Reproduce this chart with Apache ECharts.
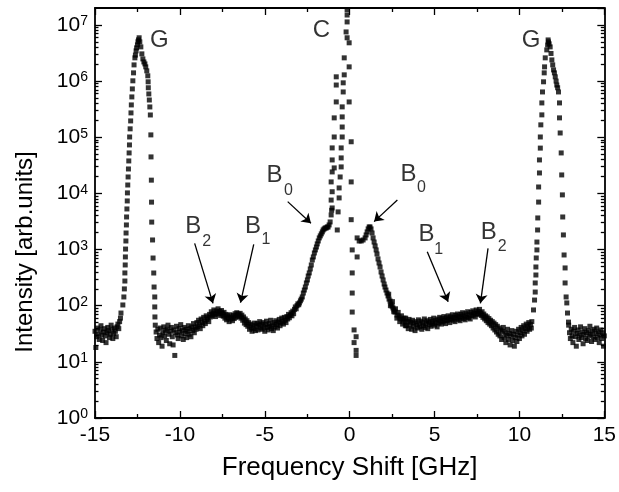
<!DOCTYPE html>
<html><head><meta charset="utf-8">
<script src="https://cdn.jsdelivr.net/npm/echarts@6/dist/echarts.min.js"></script>
<style>html,body{margin:0;padding:0;background:#fff}#c{width:619px;height:492px}</style>
</head><body><div id="c"></div>
<script>
// ---------- data (frequency shift in GHz, intensity in arb. units) ----------
const STEP = 0.05;
// regularly sampled stretches: start shift + intensities
const leftTailStart = -15.0;
const leftTailY = [35,18,28,40,31,25,37,44,30,24, 34,39,29,22,33,41,36,27,31,45, 38,26,32,40,35,28,42,47,39,52, 60];
const baseLeftStart = -11.45;
const baseLeftY = [45,34,26,38,22,30,40,27,19,33, 42,29,36,24,38,45,31,21,35,41, 28,20,37,13,33,43,30,26,39,34,
  46,29,36,25,41,32,38,27,35,44, 31,39,28,42,36,48,33,41,38,50, 42,55,46,39,58,50,44,62,53,48,
  66,57,61,52,70,63,78,66,72,84, 70,64,80,74,88,71,79,67,82,73, 65,76,60,70,56,66,61,52,69,58,
  63,54,67,59,72,62,75,66,71,64, 73,60,68,55,63,49,58,46,54,43, 50,38,47,41,35,45,39,49,36,43,
  48,37,45,52,40,47,38,50,42,35, 46,53,41,37,48,43,55,39,45,36, 50,42,54,46,40,51,57,44,49,60,
  52,47,62,55,50,64,58,70,61,67, 75,66,80,72,86,95,88,100,108,104];
const baseRightStart = 3.30;
const baseRightY = [60,44,53,39,57,46,51,38,55,43, 49,36,52,45,40,56,47,42,53,38, 50,44,58,41,48,54,39,51,46,57,
  43,52,48,60,45,55,50,42,58,49, 62,53,47,59,51,64,55,48,61,54, 66,57,50,63,58,69,55,62,52,67,
  60,71,57,64,54,70,62,75,59,66, 56,72,63,78,61,69,58,76,66,81, 68,74,63,84,72,79,70,86,74,67,
  78,62,71,58,66,54,63,50,59,47, 55,44,52,40,49,37,46,34,43,31, 40,29,37,25,35,41,27,33,22,30,
  38,25,32,20,29,36,24,31,19,27, 35,23,30,38,26,33,41,29,36,44, 31,39,47,35,42,50,38,46,40];
const rightTailStart = 12.90;
const rightTailY = [45,33,26,38,29,22,35,41,28,19, 32,37,25,30,42,27,34,21,31,39, 26,33,24,36,29,43,31,23,35,28,
  38,25,32,40,27,34,22,30,37,26, 33,19,29];

// irregular stretches: steep flanks
const leftGRiseX = [-13.47,-13.36,-13.30,-13.27,-13.24,-13.24,-13.22,-13.21,-13.20,-13.18,-13.17,-13.15,-13.14,-13.12,-13.10,-13.09,-13.07,-13.05,-13.03,-13.01,
  -12.99,-12.97,-12.96,-12.93,-12.90,-12.88,-12.86,-12.83,-12.80,-12.77,-12.73,-12.70,-12.65,-12.58,-12.50,-12.44,-12.40,-12.62,-12.55,-12.47];
const leftGRiseY = [74,103,143,199,275,383,531,738,1020,1420,1970,2740,3800,5280,7330,10200,14100,19600,27200,37800,
  52500,72900,101000,141000,195000,271000,376000,522000,725000,1010000,1400000,1940000,2590000,3450000,4410000,5410000,5900000,2900000,3900000,5000000];
const leftGFallX = [-12.36,-12.30,-12.24,-12.18,-12.12,-12.06,-12.01,-11.95,-11.89,-11.87,-11.86,-11.83,-11.80,-11.77,-11.74,-11.71,-11.70,-11.68,-11.67,-11.66,
  -11.61,-11.58,-11.54,-11.52,-11.48,-11.48,-11.47];
const leftGFallY = [4980000,4060000,3050000,2480000,2190000,2020000,1790000,1520000,1240000,970000,760000,590000,460000,346000,249000,110000,44600,17200,6980,3080,
  1480,706,382,215,143,95,63];
const riseB0X = [-2.96,-2.90,-2.85,-2.79,-2.73,-2.67,-2.61,-2.55,-2.49,-2.44,-2.38,-2.32,-2.26,-2.20,-2.14,-2.08,-2.02,-1.96,-1.91,-1.85,
  -1.79,-1.73,-1.67,-1.61,-1.56,-1.50,-1.44,-1.38,-1.32,-1.27,-1.21,-1.15,-1.09,-1.06];
const riseB0Y = [112,122,131,143,168,190,215,254,287,338,383,451,531,652,738,869,984,1110,1260,1420,
  1610,1750,1900,2060,2230,2330,2420,2420,2520,2520,2740,3100,4130,5000];
const centralLeftX = [-1.03,-1.09,-1.03,-1.09,-1.03,-0.91,-1.03,-1.03,-0.91,-0.91,-0.79,-0.79,-0.79];
const centralLeftY = [5500,7600,10700,16000,24100,28400,39400,64500,101000,221000,425000,850000,1190000];
const centralRightX = [-0.73,-0.68,-0.62,-0.62,-0.56,-0.50,-0.50,-0.50,-0.44,-0.44,-0.44,-0.44,-0.38,-0.38,-0.32,-0.03,-0.32,-0.03,-0.15,-0.21,
  -0.15,-0.15,-0.15,0.09,0.09,0.09,-0.03];
const centralRightY = [2230,4680,8300,12500,19600,29600,42800,64500,101000,152000,230000,347000,640000,930000,1290000,1790000,2590000,4800000,5900000,7500000,
  11300000,15000000,18600000,83000,16000,3400,425000];
const centralFallX = [0.15,0.44,0.15,0.15,0.15,0.26,0.38,0.26,0.38,0.38];
const centralFallY = [984,738,383,168,77,37,28,22,16,13];
const rightB0X = [0.44,0.56,0.68,0.79,0.91,0.97,1.03,1.09,1.15,1.20,1.26,1.32,1.38,1.44,1.50,1.56,1.61,1.67,1.73,1.79,
  1.85,1.91,1.97,2.03,2.08,2.14,2.20,2.26,2.32,2.38,2.44,2.50,2.55,2.61,2.67,2.79,2.91,3.02,3.14,3.26,
  2.30,2.40,2.52,2.60,2.70,2.78,2.86,2.95,3.05,3.12,3.20,3.28];
const rightB0Y = [1610,1420,1420,1480,1610,1820,2060,2330,2520,2520,2330,1970,1610,1360,1160,984,833,680,576,489,
  398,338,287,243,215,190,168,149,131,121,107,98,91,84,77,68,63,58,56,51,
  160,100,118,78,88,60,76,52,66,47,60,44];
const rightGRiseX = [10.73,10.83,10.89,10.93,10.93,10.97,10.97,10.99,11.03,11.03,11.07,11.08,11.13,11.13,11.18,11.18,11.23,11.23,11.26,11.32,
  11.32,11.36,11.42,11.46,11.48,11.52,11.61,11.71,11.66,11.69];
const rightGRiseY = [52,84,126,175,254,352,489,708,984,1360,2230,3650,7000,13000,23100,39400,64000,101000,166000,250000,
  408000,640000,970000,1400000,1790000,2590000,3590000,4980000,4400000,5400000];
const rightGFallX = [11.75,11.81,11.86,11.91,11.96,12.01,12.06,12.11,12.16,12.20,12.25,12.30,12.36,12.36,12.40,12.46,12.49,12.53,12.55,12.59,
  12.63,12.69,12.69,12.75,12.79,12.83,12.89];
const rightGFallY = [4600000,4060000,3100000,2380000,1940000,1580000,1400000,1190000,1000000,850000,760000,640000,408000,221000,119000,52500,21300,9400,3800,1820,
  800,470,254,143,112,74,51];

// axes
const xMin = -15, xMax = 15, xStep = 5;
const yMin = 1, yMax = 2e7;

// annotations: letters and their subscripts
const letterText = ['G','C','G','B','B','B','B','B','B'];
const letterX = [-11.21,-1.67,10.69,-4.43,3.46,-9.22,-5.69,4.52,8.19];
const letterY = [5.4e6,8.15e6,5.4e6,2.05e4,2.22e4,2.56e3,2.56e3,1.90e3,2.06e3];
const subText = ['0','0','2','1','1','2'];
const subX = [-3.61,4.23,-8.42,-4.93,5.25,8.98];
const subY = [1.10e4,1.28e4,1.36e3,1.48e3,1.00e3,1.11e3];
const arrowFrom = [[-3.65,7130],[-9.13,1290],[-5.65,1240],[2.81,7640],[4.57,916],[8.15,1050]];
const arrowTo   = [[-2.28,2940],[-8.05,110],[-6.43,113],[1.44,3140],[5.80,118],[7.70,110]];

// ---------- build ----------
function regular(start, ys) { return ys.map((y, i) => [+(start + i * STEP).toFixed(2), y]); }
function pairs(xs, ys) { return xs.map((x, i) => [x, ys[i]]); }
const points = [].concat(
  regular(leftTailStart, leftTailY),
  pairs(leftGRiseX, leftGRiseY),
  pairs(leftGFallX, leftGFallY),
  regular(baseLeftStart, baseLeftY),
  pairs(riseB0X, riseB0Y),
  pairs(centralLeftX, centralLeftY),
  pairs(centralRightX, centralRightY),
  pairs(centralFallX, centralFallY),
  pairs(rightB0X, rightB0Y),
  regular(baseRightStart, baseRightY),
  pairs(rightGRiseX, rightGRiseY),
  pairs(rightGFallX, rightGFallY),
  regular(rightTailStart, rightTailY)
);

const FONT = '"Liberation Sans", Arial, Helvetica, sans-serif';
const logMax = Math.log10(yMax);
const minorLogs = [];
for (let d = 0; d < 8; d++) for (let k = 2; k <= 9; k++) { const v = d + Math.log10(k); if (v < logMax) minorLogs.push(v); }

const black = '#000';
const lineStyle = { color: black, width: 1.8 };
const tickStyle = { color: black, width: 1.3 };

const xAxisBase = {
  type: 'value', min: xMin, max: xMax, interval: xStep,
  axisLine: { show: true, onZero: false, lineStyle: lineStyle },
  axisTick: { show: true, inside: true, length: 7, lineStyle: tickStyle },
  minorTick: { show: true, splitNumber: 2, length: 4, lineStyle: tickStyle },
  splitLine: { show: false }
};
const yLogBase = {
  type: 'log', logBase: 10, min: yMin, max: yMax, splitNumber: 7,
  axisLine: { show: true, onZero: false, lineStyle: lineStyle },
  axisTick: { show: true, inside: true, length: 7, lineStyle: tickStyle },
  splitLine: { show: false }
};
const yMinorBase = {
  type: 'value', min: 0, max: logMax,
  axisLine: { show: false, onZero: false },
  axisTick: { show: true, inside: true, length: 3.5, lineStyle: tickStyle, customValues: minorLogs },
  axisLabel: { show: false },
  splitLine: { show: false }
};
const textStyle = { color: black, fontFamily: FONT };

const chart = echarts.init(document.getElementById('c'), null, { renderer: 'canvas' });
chart.setOption({
  animation: false,
  backgroundColor: '#fff',
  grid: { left: 95, right: 13, top: 8, bottom: 74 },
  xAxis: [
    Object.assign({}, xAxisBase, {
      position: 'bottom',
      axisLabel: { color: black, fontSize: 21, fontFamily: FONT, margin: 7 },
      name: 'Frequency Shift [GHz]', nameLocation: 'middle', nameGap: 37,
      nameTextStyle: { color: black, fontSize: 26, fontFamily: FONT }
    }),
    Object.assign({}, xAxisBase, { position: 'top', axisLabel: { show: false } })
  ],
  yAxis: [
    Object.assign({}, yLogBase, {
      position: 'left',
      axisLabel: {
        color: black, fontFamily: FONT, margin: 7, showMaxLabel: false,
        formatter: function (v) {
          const e = Math.log10(v);
          if (Math.abs(e - Math.round(e)) > 1e-6) return '';
          return '{b|10}{s|' + Math.round(e) + '}';
        },
        rich: {
          b: { fontSize: 21, lineHeight: 21, fontFamily: FONT, color: black, padding: [6, 0, 0, 0], verticalAlign: 'bottom' },
          s: { fontSize: 14, lineHeight: 14, fontFamily: FONT, color: black, verticalAlign: 'top' }
        }
      },
      name: 'Intensity [arb.units]', nameLocation: 'middle', nameGap: 58,
      nameTextStyle: { color: black, fontSize: 24, fontFamily: FONT, padding: [0, 78, 0, 0] }
    }),
    Object.assign({}, yLogBase, { position: 'right', axisLabel: { show: false } }),
    Object.assign({}, yMinorBase, { position: 'left' }),
    Object.assign({}, yMinorBase, { position: 'right' })
  ],
  series: [
    {
      type: 'scatter', xAxisIndex: 0, yAxisIndex: 0,
      symbol: 'rect', symbolSize: 5,
      itemStyle: { color: black },
      data: points, silent: true
    },
    {
      type: 'scatter', xAxisIndex: 0, yAxisIndex: 0,
      symbolSize: 0, silent: true,
      data: letterText.map((t, i) => ({ value: [letterX[i], letterY[i]], label: { formatter: t } })),
      label: Object.assign({ show: true, position: 'inside', fontSize: 24 }, textStyle),
      markLine: {
        silent: true, animation: false,
        symbol: ['none', 'arrow'], symbolSize: 9,
        label: { show: false },
        lineStyle: { color: black, width: 1.3, type: 'solid' },
        data: arrowFrom.map((f, i) => [{ coord: f }, { coord: arrowTo[i] }])
      }
    },
    {
      type: 'scatter', xAxisIndex: 0, yAxisIndex: 0,
      symbolSize: 0, silent: true,
      data: subText.map((t, i) => ({ value: [subX[i], subY[i]], label: { formatter: t } })),
      label: Object.assign({ show: true, position: 'inside', fontSize: 16 }, textStyle)
    }
  ]
});
</script></body></html>
